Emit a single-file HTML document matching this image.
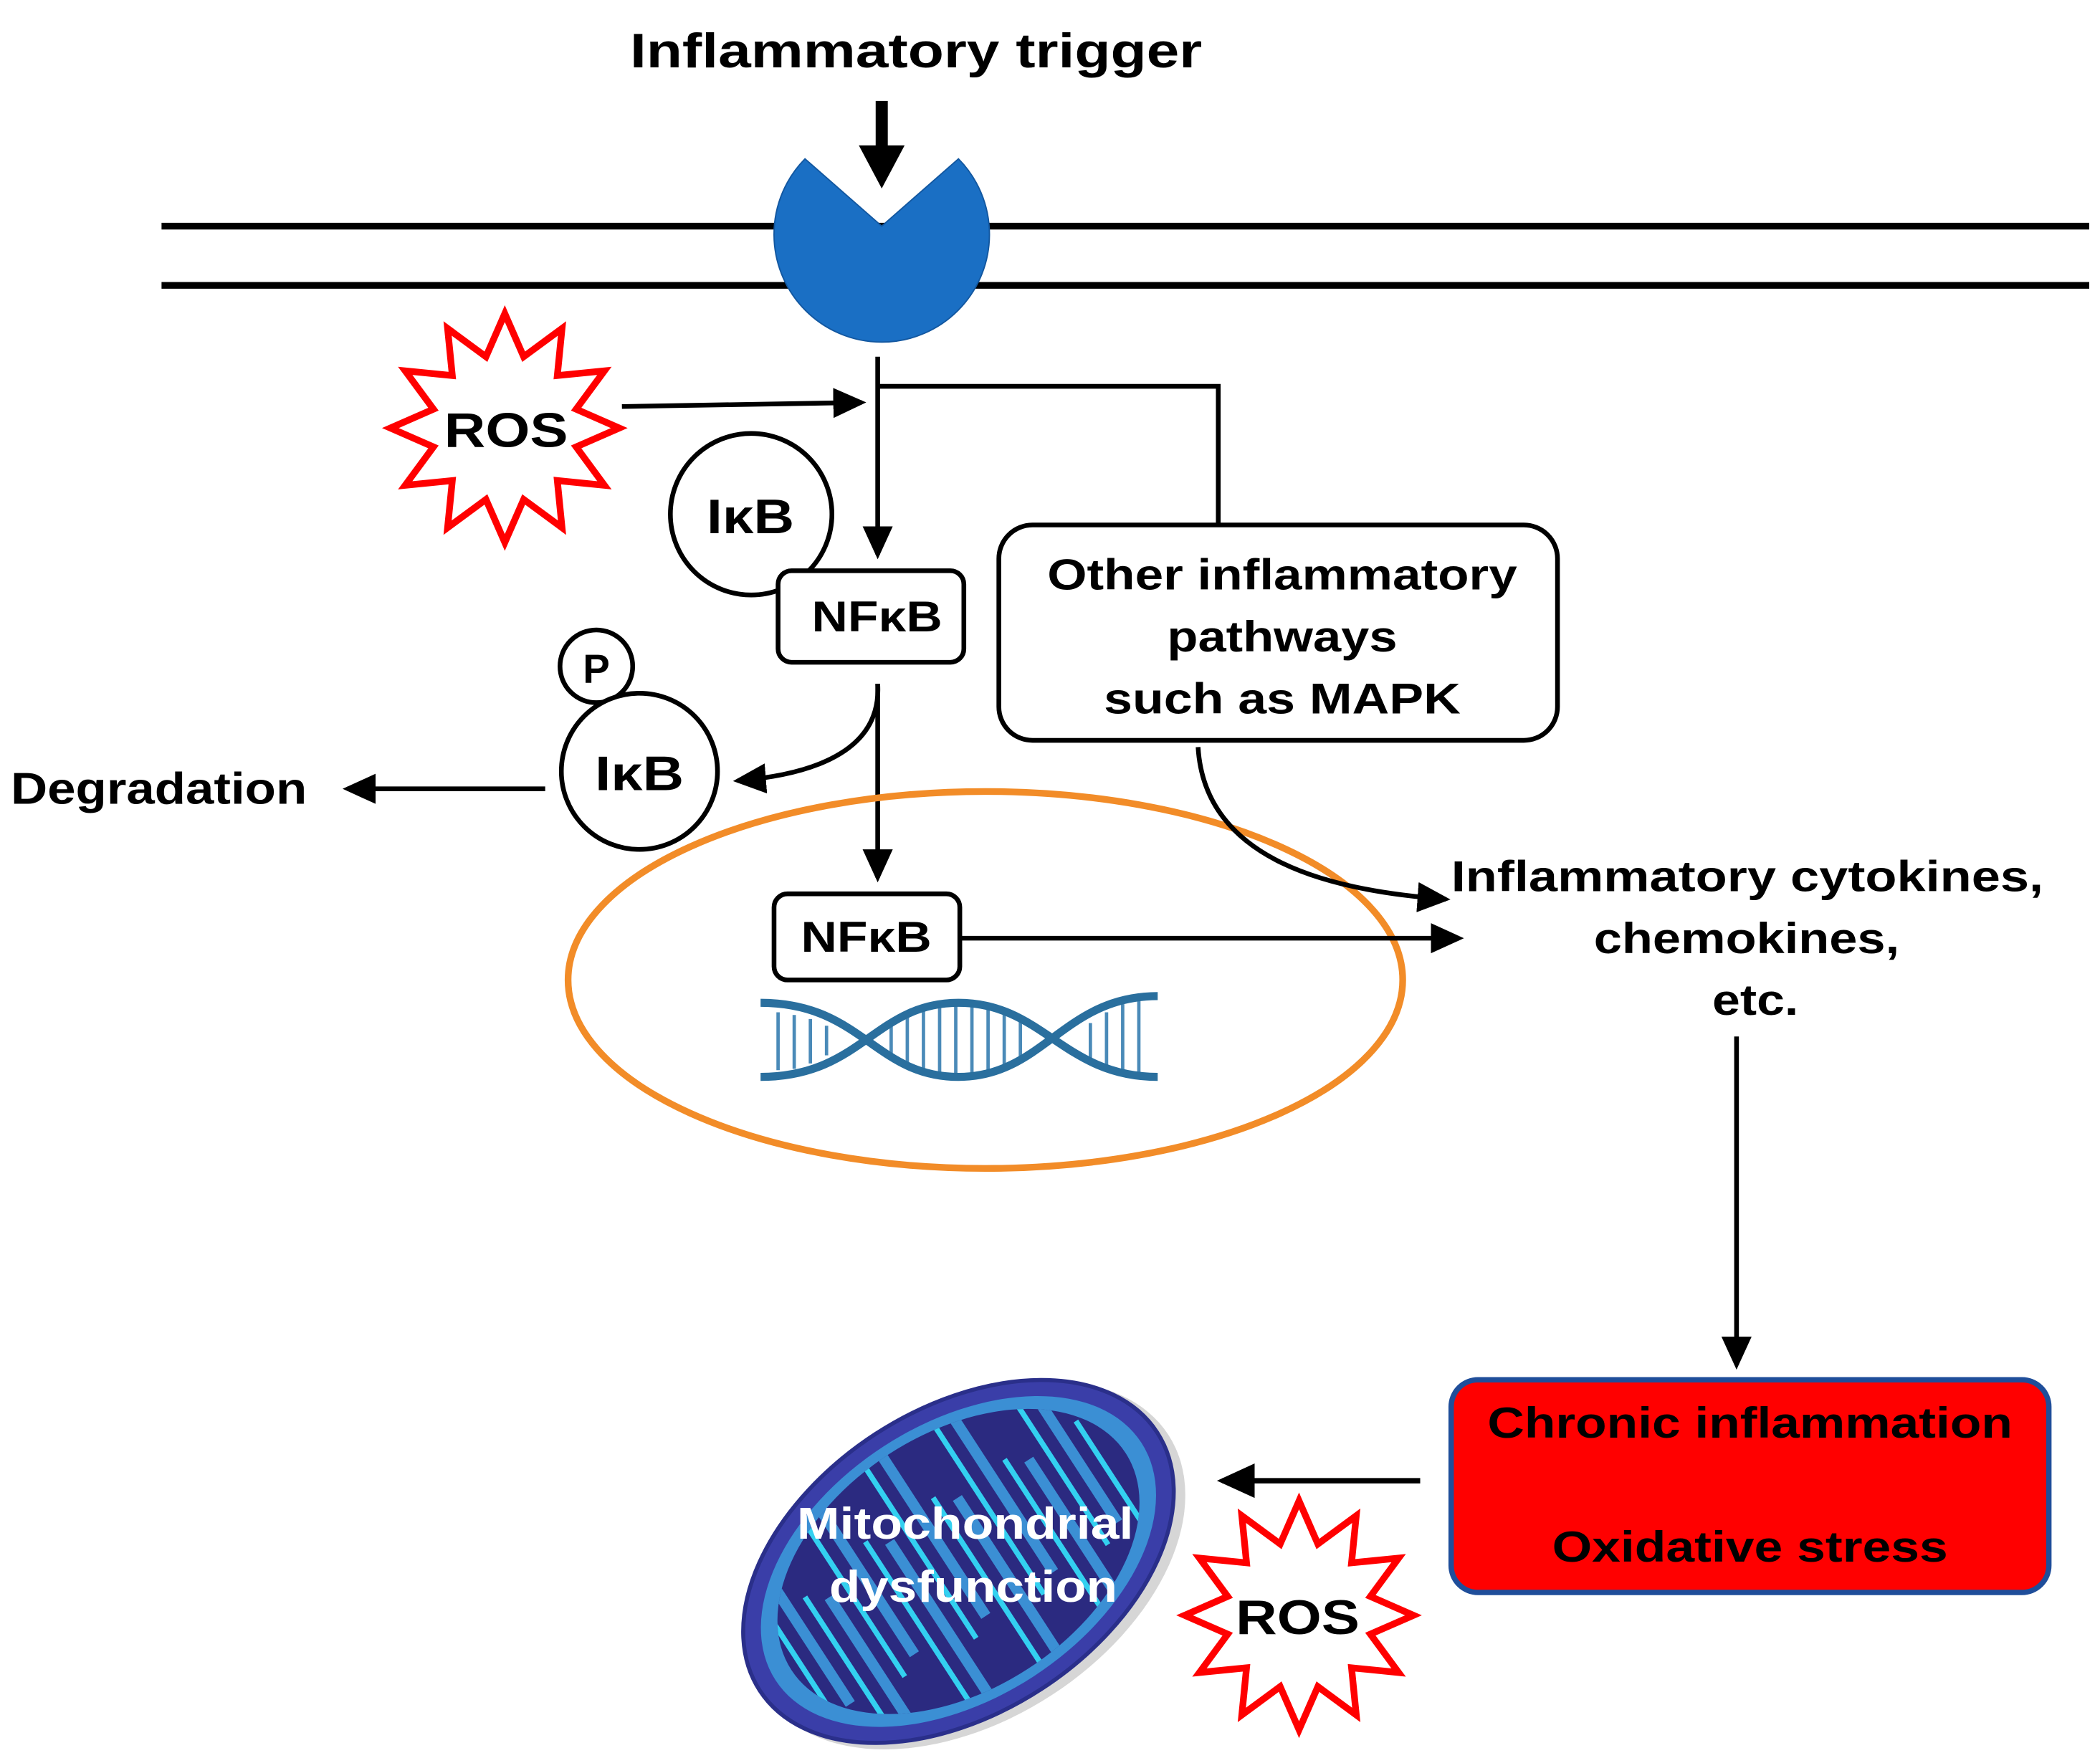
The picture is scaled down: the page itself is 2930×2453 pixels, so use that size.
<!DOCTYPE html>
<html><head><meta charset="utf-8"><style>
html,body{margin:0;padding:0;background:#fff;}
svg{display:block;}
text{font-family:"Liberation Sans",Arial,sans-serif;font-weight:bold;}
</style></head><body>
<svg width="2930" height="2453" viewBox="0 0 1560 1306" preserveAspectRatio="none" xmlns="http://www.w3.org/2000/svg">
<defs>
<marker id="ah" markerWidth="8" markerHeight="8" refX="6" refY="4" orient="auto" markerUnits="strokeWidth">
<path d="M0,0.8 L7,4 L0,7.2 Z" fill="#000"/></marker>
<polygon id="star" points="85,0 53,14 74,42.5 39,39 42.5,74 14,53 0,85 -14,53 -42.5,74 -39,39 -74,42.5 -53,14 -85,0 -53,-14 -74,-42.5 -39,-39 -42.5,-74 -14,-53 0,-85 14,-53 42.5,-74 39,-39 74,-42.5 53,-14" fill="#fff" stroke="#ff0000" stroke-width="5" stroke-linejoin="miter"/>
<clipPath id="mc"><ellipse cx="0" cy="0" rx="148" ry="95"/></clipPath>
</defs>

<text x="468" y="50" font-size="36" textLength="425" lengthAdjust="spacingAndGlyphs">Inflammatory trigger</text>
<line x1="655" y1="75" x2="655" y2="112" stroke="#000" stroke-width="9"/>
<path d="M638,108 L672,108 L655,140 Z" fill="#000"/>

<line x1="120" y1="168" x2="1552" y2="168" stroke="#000" stroke-width="5"/>
<line x1="120" y1="212" x2="1552" y2="212" stroke="#000" stroke-width="5"/>
<path d="M655,168 L712,118 A80 80 0 1 1 598,118 Z" fill="#1a6fc4" stroke="#1257a0" stroke-width="1"/>

<line x1="652" y1="265" x2="652" y2="412" stroke="#000" stroke-width="3.5" marker-end="url(#ah)"/>
<polyline points="652,287 905,287 905,390" fill="none" stroke="#000" stroke-width="3.5"/>
<line x1="462" y1="302" x2="640" y2="299" stroke="#000" stroke-width="3.5" marker-end="url(#ah)"/>

<use href="#star" transform="translate(375,318)"/>
<text x="330" y="332" font-size="36" textLength="92" lengthAdjust="spacingAndGlyphs">ROS</text>

<circle cx="558" cy="382" r="60" fill="#fff" stroke="#000" stroke-width="3.5"/>
<text x="525" y="396" font-size="36" textLength="65" lengthAdjust="spacingAndGlyphs">IκB</text>
<rect x="578" y="424" width="138" height="68" rx="10" fill="#fff" stroke="#000" stroke-width="3.5"/>
<text x="603" y="469" font-size="32" textLength="97" lengthAdjust="spacingAndGlyphs">NFκB</text>

<circle cx="443" cy="495" r="27" fill="#fff" stroke="#000" stroke-width="3.5"/>
<text x="443" y="507" font-size="30" text-anchor="middle">P</text>
<circle cx="475" cy="573" r="58" fill="#fff" stroke="#000" stroke-width="3.5"/>
<text x="442" y="587" font-size="36" textLength="66" lengthAdjust="spacingAndGlyphs">IκB</text>

<text x="8" y="597" font-size="33" textLength="220" lengthAdjust="spacingAndGlyphs">Degradation</text>
<line x1="405" y1="586" x2="258" y2="586" stroke="#000" stroke-width="3.5" marker-end="url(#ah)"/>
<path d="M652,508 C655,555 610,575 548,580" fill="none" stroke="#000" stroke-width="3.5" marker-end="url(#ah)"/>
<line x1="652" y1="508" x2="652" y2="652" stroke="#000" stroke-width="3.5" marker-end="url(#ah)"/>

<ellipse cx="732" cy="728" rx="310" ry="140" fill="none" stroke="#f28c28" stroke-width="5"/>
<rect x="575" y="664" width="138" height="64" rx="10" fill="#fff" stroke="#000" stroke-width="3.5"/>
<text x="595" y="707" font-size="32" textLength="97" lengthAdjust="spacingAndGlyphs">NFκB</text>
<line x1="713" y1="697" x2="1084" y2="697" stroke="#000" stroke-width="3.5" marker-end="url(#ah)"/>

<g stroke="#4a8ab8" stroke-width="2.5">
<line x1="578" y1="752" x2="578" y2="795"/><line x1="590" y1="754" x2="590" y2="794"/><line x1="602" y1="757" x2="602" y2="790"/><line x1="614" y1="762" x2="614" y2="784"/>
<line x1="662" y1="762" x2="662" y2="785"/><line x1="674" y1="755" x2="674" y2="792"/><line x1="686" y1="750" x2="686" y2="796"/><line x1="698" y1="747" x2="698" y2="798"/><line x1="710" y1="746" x2="710" y2="799"/><line x1="722" y1="746" x2="722" y2="799"/><line x1="734" y1="748" x2="734" y2="797"/><line x1="746" y1="752" x2="746" y2="793"/><line x1="758" y1="758" x2="758" y2="787"/>
<line x1="810" y1="760" x2="810" y2="786"/><line x1="822" y1="752" x2="822" y2="794"/><line x1="834" y1="746" x2="834" y2="798"/><line x1="846" y1="742" x2="846" y2="800"/>
</g>
<path d="M565,745 C640,745 650,800 712,800 C775,800 790,740 860,740" fill="none" stroke="#2a6f9e" stroke-width="6"/>
<path d="M565,800 C640,800 650,745 712,745 C775,745 790,800 860,800" fill="none" stroke="#2a6f9e" stroke-width="6"/>

<rect x="742" y="390" width="415" height="160" rx="25" fill="#fff" stroke="#000" stroke-width="3.5"/>
<text x="778" y="438" font-size="32" textLength="349" lengthAdjust="spacingAndGlyphs">Other inflammatory</text>
<text x="867" y="484" font-size="32" textLength="171" lengthAdjust="spacingAndGlyphs">pathways</text>
<text x="820" y="530" font-size="32" textLength="265" lengthAdjust="spacingAndGlyphs">such as MAPK</text>
<path d="M890,555 C895,640 990,662 1074,668" fill="none" stroke="#000" stroke-width="3.5" marker-end="url(#ah)"/>

<text x="1078" y="662" font-size="32" textLength="440" lengthAdjust="spacingAndGlyphs">Inflammatory  cytokines,</text>
<text x="1184" y="708" font-size="32" textLength="227" lengthAdjust="spacingAndGlyphs">chemokines,</text>
<text x="1272" y="754" font-size="32" textLength="64" lengthAdjust="spacingAndGlyphs">etc.</text>
<line x1="1290" y1="770" x2="1290" y2="1014" stroke="#000" stroke-width="3.5" marker-end="url(#ah)"/>

<rect x="1078" y="1025" width="444" height="158" rx="20" fill="#ff0000" stroke="#1f4e9a" stroke-width="4"/>
<text x="1105" y="1068" font-size="32" textLength="390" lengthAdjust="spacingAndGlyphs">Chronic inflammation</text>
<text x="1153" y="1160" font-size="32" textLength="294" lengthAdjust="spacingAndGlyphs">Oxidative  stress</text>
<line x1="1055" y1="1100" x2="908" y2="1100" stroke="#000" stroke-width="4" marker-end="url(#ah)"/>

<use href="#star" transform="translate(965,1200)"/>
<text x="918" y="1214" font-size="36" textLength="92" lengthAdjust="spacingAndGlyphs">ROS</text>

<g transform="translate(712,1160) rotate(-33)">
<ellipse cx="4" cy="6" rx="178" ry="115" fill="#bbb" opacity="0.6"/>
<ellipse cx="0" cy="0" rx="176" ry="113" fill="#3a3ea8" stroke="#2a2f8a" stroke-width="3"/>
<ellipse cx="0" cy="0" rx="162" ry="102" fill="#3b8fd4"/>
<ellipse cx="0" cy="0" rx="148" ry="95" fill="#2b2a80"/>
<g clip-path="url(#mc)" fill="none" stroke="#33d0f0" stroke-width="4">
<path d="M-140,-100 L-140,60 M-110,100 L-110,-40 M-80,-100 L-80,50 M-50,100 L-50,-50 M-20,-100 L-20,55 M10,100 L10,-50 M40,-100 L40,55 M70,100 L70,-45 M100,-100 L100,50 M130,100 L130,-40"/>
</g>
<g clip-path="url(#mc)" fill="none" stroke="#3b8fd4" stroke-width="8">
<path d="M-125,-100 L-125,45 M-95,100 L-95,-30 M-65,-100 L-65,40 M-35,100 L-35,-40 M-5,-100 L-5,45 M25,100 L25,-40 M55,-100 L55,45 M85,100 L85,-35 M115,-100 L115,40"/>
</g>
</g>
<text x="592" y="1143" font-size="33" fill="#fff" textLength="250" lengthAdjust="spacingAndGlyphs">Mitochondrial</text>
<text x="616" y="1190" font-size="33" fill="#fff" textLength="214" lengthAdjust="spacingAndGlyphs">dysfunction</text>
</svg>
</body></html>
